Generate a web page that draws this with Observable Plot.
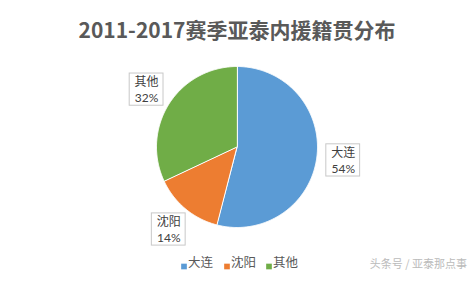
<!DOCTYPE html>
<html>
<head>
<meta charset="utf-8">
<script src="https://cdn.jsdelivr.net/npm/d3@7"></script>
<script src="https://cdn.jsdelivr.net/npm/@observablehq/plot@0.6"></script>
<style>
  html, body { margin: 0; padding: 0; background: #fff; }
  svg { display: block; }
</style>
</head>
<body>
<div id="chart"></div>
<script>
const title = "2011-2017赛季亚泰内援籍贯分布";
const categories = ["大连", "沈阳", "其他"];
const shares = [54, 14, 32];
const colors = ["#5B9BD5", "#ED7D31", "#70AD47"];
const watermark = "头条号 / 亚泰那点事";

const rows = categories.map((c, i) => ({cat: c, share: shares[i]}));
const arcs = d3.pie().sort(null).value(d => d.share)(rows);

// slice outlines in unit-circle coordinates
const pts = [];
for (const a of arcs) {
  pts.push({cat: a.data.cat, x: 0, y: 0});
  const n = Math.max(2, Math.ceil((a.endAngle - a.startAngle) / 0.01));
  for (let k = 0; k <= n; k++) {
    const t = a.startAngle + (a.endAngle - a.startAngle) * k / n;
    pts.push({cat: a.data.cat, x: Math.sin(t), y: Math.cos(t)});
  }
}

const LR = 1.33;
const labels = arcs.map(a => {
  const m = (a.startAngle + a.endAngle) / 2;
  return {cat: a.data.cat, share: a.data.share, lx: LR * Math.sin(m), ly: LR * Math.cos(m)};
});

const font = "'Noto Sans CJK SC', 'Noto Sans', sans-serif";
const legendOffsets = [-53, -10, 32];

const legendMarks = categories.flatMap((c, i) => [
  Plot.dot([c], {frameAnchor: "bottom", dx: legendOffsets[i], dy: 39, symbol: "square", r: 3.2, fill: colors[i], stroke: null}),
  Plot.text([c], {frameAnchor: "bottom", dx: legendOffsets[i] + 4, dy: 39, text: d => d, textAnchor: "start", fontSize: 12.5, fill: "#595959"})
]);

const chart = Plot.plot({
  width: 472,
  height: 282,
  marginLeft: 156,
  marginRight: 155,
  marginTop: 66,
  marginBottom: 55,
  style: {background: "#fff", fontFamily: font},
  x: {domain: [-1, 1], axis: null},
  y: {domain: [-1, 1], axis: null},
  color: {domain: categories, range: colors},
  marks: [
    Plot.line(pts, {x: "x", y: "y", z: "cat", fill: "cat", stroke: "white", strokeWidth: 1, curve: "linear-closed"}),
    Plot.rect(labels, {x1: d => d.lx - 0.21, x2: d => d.lx + 0.21, y1: d => d.ly - 0.2, y2: d => d.ly + 0.2, fill: "white", stroke: "#c8c8c8"}),
    Plot.text(labels, {x: "lx", y: "ly", dy: -7.5, text: "cat", fontSize: 12, fill: "#404040"}),
    Plot.text(labels, {x: "lx", y: "ly", dy: 8.5, text: d => `${d.share}%`, fontSize: 12, fontFamily: "Lato, sans-serif", fill: "#404040"}),
    Plot.text([title], {frameAnchor: "top", dy: -43, text: d => d, fontSize: 21, fontWeight: "bold", fill: "#595959"}),
    ...legendMarks,
    Plot.text([watermark], {frameAnchor: "bottom", dx: 230, dy: 40, text: d => d, textAnchor: "end", fontSize: 11, fill: "#bbbbbb"})
  ]
});
document.getElementById("chart").append(chart);
</script>
</body>
</html>
